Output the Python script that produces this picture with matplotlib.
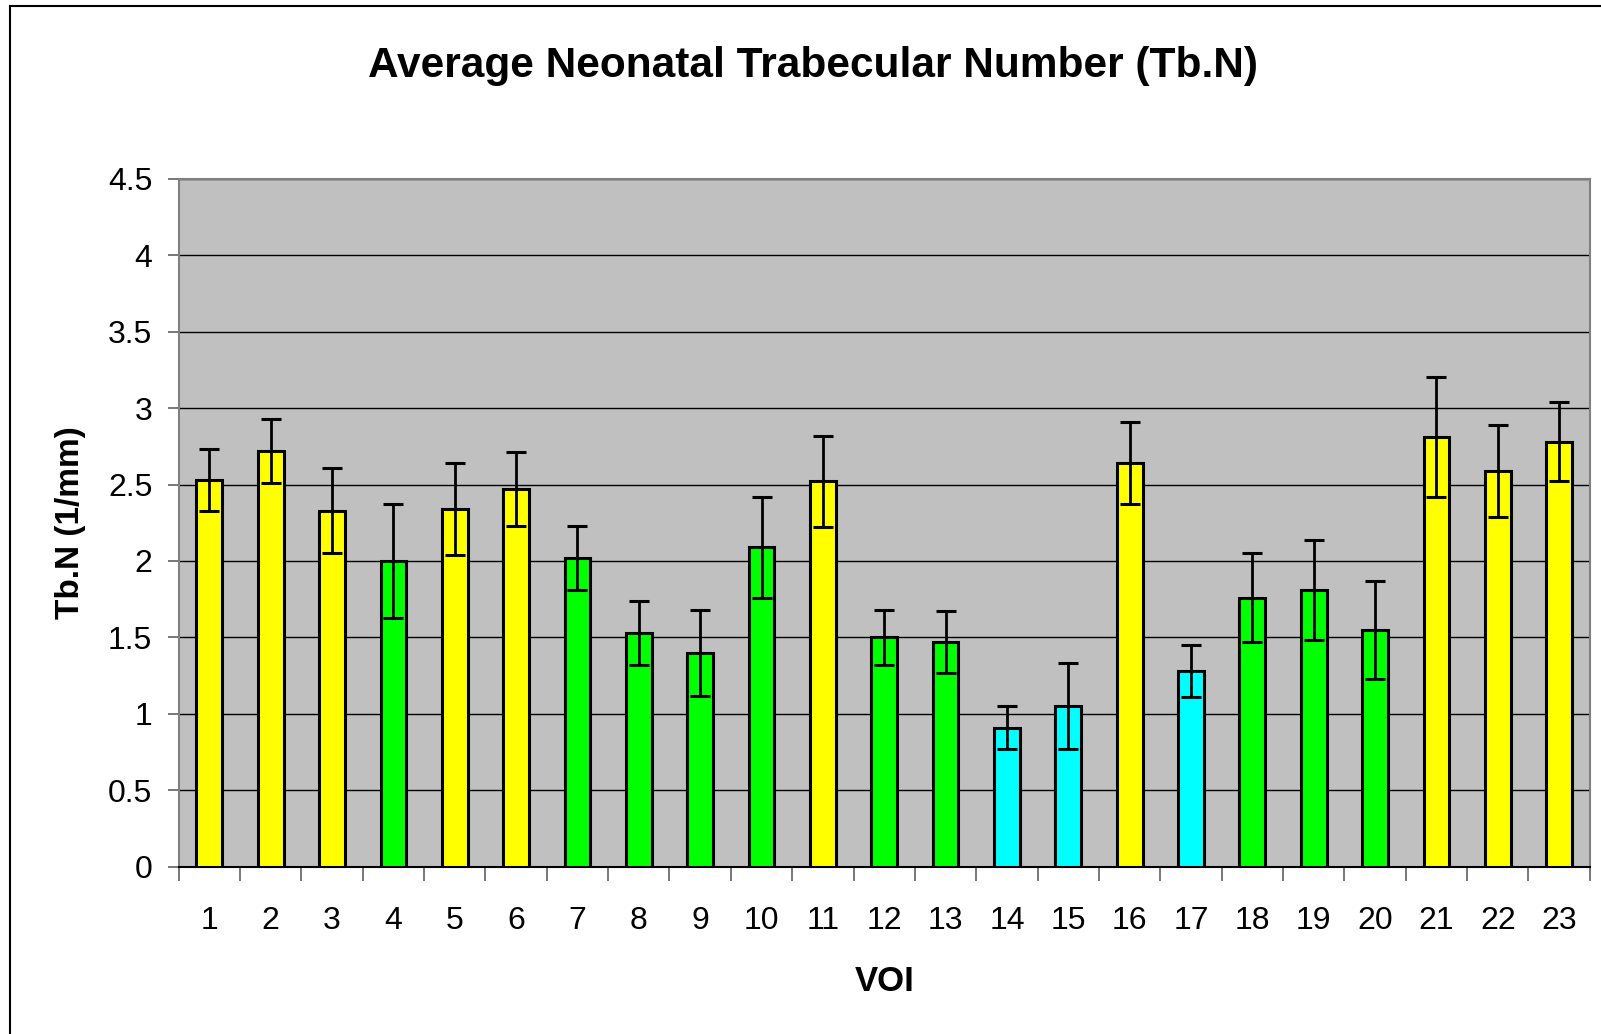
import matplotlib
matplotlib.use("Agg")
import matplotlib.pyplot as plt
from matplotlib.lines import Line2D

plt.rcParams['font.family'] = ['Liberation Sans', 'DejaVu Sans']

voi = [str(i) for i in range(1, 24)]
tbn_mean = [2.53, 2.72, 2.33, 2.00, 2.34, 2.47, 2.02, 1.53, 1.40, 2.09, 2.52,
            1.50, 1.47, 0.91, 1.05, 2.64, 1.28, 1.76, 1.81, 1.55, 2.81, 2.59, 2.78]
tbn_sd = [0.20, 0.21, 0.28, 0.37, 0.30, 0.24, 0.21, 0.21, 0.28, 0.33, 0.30,
          0.18, 0.20, 0.14, 0.28, 0.27, 0.17, 0.29, 0.33, 0.32, 0.39, 0.30, 0.26]
region = ['Y', 'Y', 'Y', 'G', 'Y', 'Y', 'G', 'G', 'G', 'G', 'Y',
          'G', 'G', 'C', 'C', 'Y', 'C', 'G', 'G', 'G', 'Y', 'Y', 'Y']
palette = {'Y': '#FFFF00', 'G': '#00FF00', 'C': '#00FFFF'}
y_ticks = [0, 0.5, 1, 1.5, 2, 2.5, 3, 3.5, 4, 4.5]
y_tick_labels = ['0', '0.5', '1', '1.5', '2', '2.5', '3', '3.5', '4', '4.5']

fig = plt.figure(figsize=(16.01, 10.34), dpi=100)
ax = fig.add_axes([0.1116, 0.1617, 0.8814, 0.6655])
ax.set_facecolor('#C0C0C0')

x = list(range(len(voi)))
colors = [palette[r] for r in region]
ax.bar(x, tbn_mean, width=0.42, color=colors, edgecolor='black',
       linewidth=2.2, zorder=3)
ax.errorbar(x, tbn_mean, yerr=tbn_sd, fmt='none', ecolor='black',
            elinewidth=2.0, capsize=7.5, capthick=2.2, zorder=4)

ax.set_xlim(-0.5, len(voi) - 0.5)
ax.set_ylim(0, 4.5)
ax.set_yticks(y_ticks)
ax.set_yticklabels(y_tick_labels)
ax.yaxis.grid(True, color='black', linewidth=1.0, zorder=1)
ax.set_axisbelow(True)

# category labels centred under bars, tick marks on category boundaries
ax.set_xticks(x)
ax.set_xticklabels(voi)
ax.tick_params(axis='x', length=0, pad=28, labelsize=23)
ax.set_xticks([i - 0.5 for i in range(len(voi) + 1)], minor=True)
ax.tick_params(axis='x', which='minor', length=10, width=1.2, color='#606060')
ax.tick_params(axis='y', length=8, width=1.2, color='#606060', pad=11,
               labelsize=23)

for side in ('top', 'right', 'left'):
    ax.spines[side].set_color('#808080')
    ax.spines[side].set_linewidth(1.5)
ax.spines['bottom'].set_color('black')
ax.spines['bottom'].set_linewidth(1.5)

ax.set_ylabel('Tb.N (1/mm)', fontsize=24, fontweight='bold', labelpad=16)
ax.set_xlabel('VOI', fontsize=25, fontweight='bold', labelpad=21)
fig.text(0.508, 0.936, 'Average Neonatal Trabecular Number (Tb.N)',
         ha='center', va='center', fontsize=30.5, fontweight='bold')

# chart frame (left and top edges)
fig.add_artist(Line2D([0.0065, 0.0065], [0.0, 0.9945], transform=fig.transFigure,
                      color='black', linewidth=1.5))
fig.add_artist(Line2D([0.0065, 1.0], [0.9945, 0.9945], transform=fig.transFigure,
                      color='black', linewidth=1.5))

fig.savefig('out.png', dpi=100, facecolor='white')
